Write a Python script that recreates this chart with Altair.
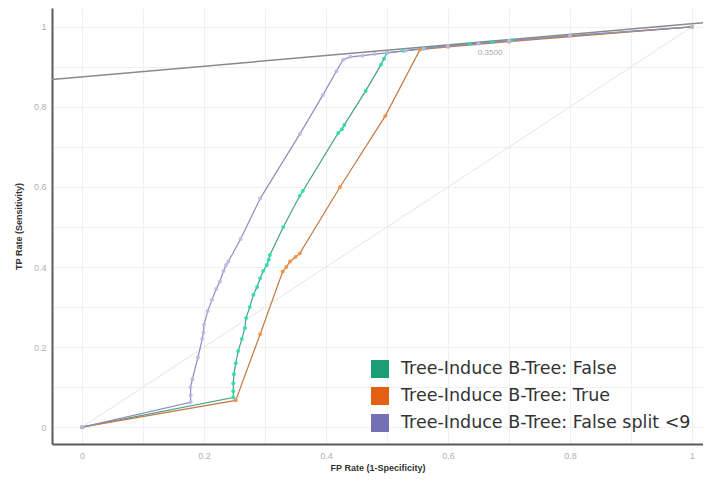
import altair as alt
import pandas as pd

series_names = [
    "Tree-Induce B-Tree: False",
    "Tree-Induce B-Tree: True",
    "Tree-Induce B-Tree: False split <9",
]
legend_colors = ["#1b9e77", "#e35f12", "#7570b3"]
line_colors = ["#46a08a", "#c47a45", "#908cbc"]
marker_colors = ["#27e0ac", "#f5903f", "#bcb8ea"]

# ROC points
false_fpr = [0, 0.248, 0.248, 0.248, 0.249, 0.252, 0.256, 0.262, 0.267, 0.269, 0.275, 0.281,
             0.287, 0.292, 0.297, 0.303, 0.306, 0.308, 0.33, 0.357, 0.362, 0.42, 0.426, 0.43,
             0.465, 0.49, 0.495, 0.5, 0.527, 0.56, 0.636, 0.672, 0.704, 1]
false_tpr = [0, 0.074, 0.09, 0.11, 0.132, 0.16, 0.19, 0.22, 0.248, 0.273, 0.30, 0.331,
             0.35, 0.372, 0.39, 0.405, 0.418, 0.43, 0.5, 0.578, 0.59, 0.735, 0.744, 0.755,
             0.84, 0.905, 0.92, 0.935, 0.94, 0.946, 0.958, 0.962, 0.966, 1]

true_fpr = [0, 0.252, 0.292, 0.329, 0.335, 0.341, 0.35, 0.357, 0.423, 0.497, 0.554, 0.6, 0.7, 1]
true_tpr = [0, 0.067, 0.232, 0.389, 0.40, 0.414, 0.425, 0.434, 0.6, 0.777, 0.943, 0.95, 0.963, 1]

split_fpr = [0, 0.178, 0.178, 0.178, 0.181, 0.19, 0.197, 0.199, 0.2, 0.206, 0.213, 0.22, 0.226,
             0.232, 0.236, 0.24, 0.26, 0.292, 0.357, 0.395, 0.417, 0.428, 0.44, 0.46, 0.48,
             0.5, 0.53, 0.56, 0.6, 0.65, 0.7, 0.8, 1]
split_tpr = [0, 0.062, 0.08, 0.10, 0.12, 0.174, 0.22, 0.236, 0.256, 0.29, 0.318, 0.345, 0.364,
             0.39, 0.405, 0.414, 0.47, 0.571, 0.732, 0.83, 0.889, 0.918, 0.925, 0.928, 0.932,
             0.935, 0.94, 0.945, 0.952, 0.958, 0.965, 0.978, 1]

diag_x = [0, 1]
diag_y = [0, 1]
iso_x = [-0.06, 1.03]
iso_y = [0.867, 1.012]

note_x = [0.669]
note_y = [0.935]
note_text = ["0.3500"]

axis_ticks = [round(i * 0.1, 1) for i in range(0, 11)]

rows = []
for name, xs_, ys_ in zip(series_names, [false_fpr, true_fpr, split_fpr],
                          [false_tpr, true_tpr, split_tpr]):
    for i, (a, b) in enumerate(zip(xs_, ys_)):
        rows.append({"series": name, "line_series": name, "mark_series": name,
                     "fpr": a, "tpr": b, "order": i})
df = pd.DataFrame(rows)

xdom = [-0.0492, 1.018]
ydom = [-0.042, 1.047]

xs = alt.Scale(domain=xdom, nice=False, zero=False)
ys = alt.Scale(domain=ydom, nice=False, zero=False)

label_expr = "round(datum.value*10) % 2 == 0 ? datum.label : ''"

x_axis = alt.Axis(values=axis_ticks, format="~g", labelExpr=label_expr,
                  title="FP Rate (1-Specificity)", ticks=False,
                  labelPadding=7, titlePadding=3)
y_axis = alt.Axis(values=axis_ticks, format="~g", labelExpr=label_expr,
                  title="TP Rate (Sensitivity)", ticks=False,
                  labelPadding=6, titlePadding=10)

diag = alt.Chart(pd.DataFrame({"x": diag_x, "y": diag_y})).mark_line(
    color="#e4e4e4", strokeWidth=1, clip=True
).encode(x=alt.X("x:Q", scale=xs, axis=x_axis), y=alt.Y("y:Q", scale=ys, axis=y_axis))

iso = alt.Chart(pd.DataFrame({"x": iso_x, "y": iso_y})).mark_line(
    color="#8a8a8a", strokeWidth=1.5, clip=True
).encode(x=alt.X("x:Q", scale=xs), y=alt.Y("y:Q", scale=ys))

lines = alt.Chart(df).mark_line(strokeWidth=1.2, clip=True).encode(
    x=alt.X("fpr:Q", scale=xs),
    y=alt.Y("tpr:Q", scale=ys),
    stroke=alt.Stroke("line_series:N", scale=alt.Scale(domain=series_names, range=line_colors), legend=None),
    order="order:Q",
)

points = alt.Chart(df).mark_circle(size=16, opacity=0.9, clip=True).encode(
    x=alt.X("fpr:Q", scale=xs),
    y=alt.Y("tpr:Q", scale=ys),
    fill=alt.Fill("mark_series:N", scale=alt.Scale(domain=series_names, range=marker_colors), legend=None),
)

legend_layer = alt.Chart(df).mark_square(size=0, filled=True, clip=True).encode(
    x=alt.X("fpr:Q", scale=xs),
    y=alt.Y("tpr:Q", scale=ys),
    color=alt.Color(
        "series:N",
        scale=alt.Scale(domain=series_names, range=legend_colors),
        legend=alt.Legend(
            title=None, orient="bottom-right", offset=12,
            symbolType="square", symbolSize=324, symbolOpacity=1,
            labelFontSize=17.5, labelColor="#333333",
            labelFont="DejaVu Sans", labelOffset=11, rowPadding=8,
            labelLimit=400,
        ),
    ),
)

note = alt.Chart(pd.DataFrame({"x": note_x, "y": note_y, "t": note_text})).mark_text(
    fontSize=8, color="#a8a8a8", font="Liberation Sans"
).encode(x=alt.X("x:Q", scale=xs), y=alt.Y("y:Q", scale=ys), text="t:N")

chart = alt.layer(diag, iso, lines, points, legend_layer, note).resolve_scale(
    color="independent"
).properties(
    width=651,
    height=436,
    autosize=alt.AutoSizeParams(type="none"),
    padding={"left": 44, "top": 0, "right": 0, "bottom": 32},
    background="white",
).configure_view(stroke=None).configure_axis(
    domainColor="#5a5a5a", domainWidth=2,
    gridColor="#f0f0f0", gridWidth=1,
    labelColor="#b0b0b0", labelFontSize=9, labelFont="Liberation Sans",
    titleColor="#333333", titleFontSize=9, titleFont="Liberation Sans", titleFontWeight="bold",
)

chart.save("out.html", embed_options={"renderer": "svg", "actions": False})
